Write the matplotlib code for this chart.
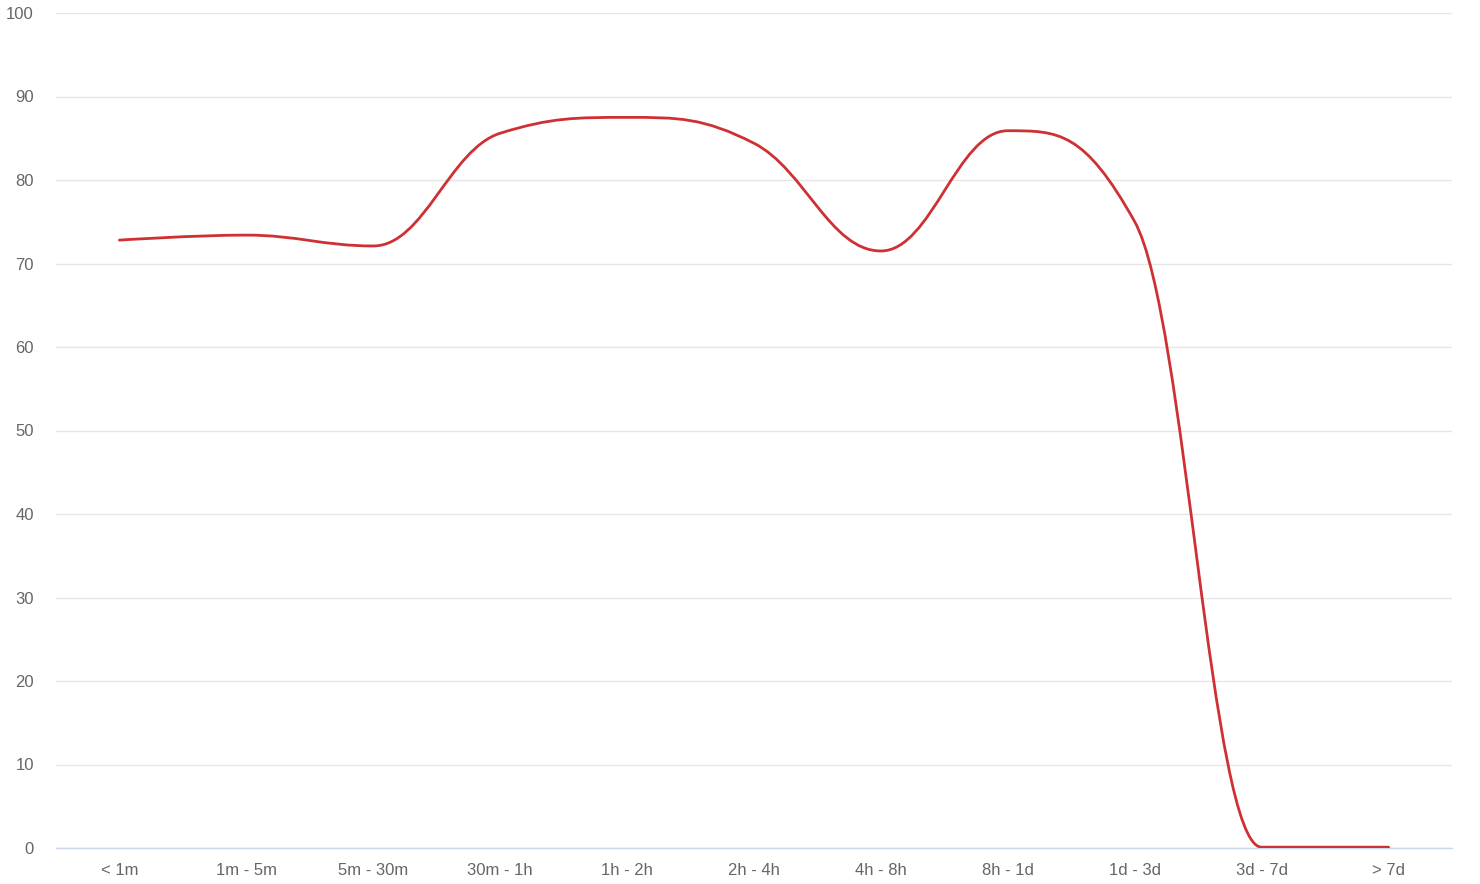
import numpy as np
import matplotlib.pyplot as plt
from matplotlib.path import Path
from matplotlib.patches import PathPatch

categories = ['< 1m', '1m - 5m', '5m - 30m', '30m - 1h', '1h - 2h', '2h - 4h',
              '4h - 8h', '8h - 1d', '1d - 3d', '3d - 7d', '> 7d']
values = [72.8, 73.4, 72.1, 85.6, 87.5, 84.4, 71.5, 85.9, 75.0, 0.1, 0.1]
y_ticks = [0, 10, 20, 30, 40, 50, 60, 70, 80, 90, 100]


def spline_path(xs, ys, smoothing=1.5):
    # Highcharts-style spline: cubic bezier with clamped control points
    n = len(xs)
    denom = smoothing + 1
    left = [(xs[0], ys[0])] * n
    right = [(xs[0], ys[0])] * n
    for i in range(n):
        x, y = xs[i], ys[i]
        if i == 0 or i == n - 1:
            left[i] = (x, y)
            right[i] = (x, y)
            continue
        lx, ly = xs[i - 1], ys[i - 1]
        nx, ny = xs[i + 1], ys[i + 1]
        lcx = (smoothing * x + lx) / denom
        lcy = (smoothing * y + ly) / denom
        rcx = (smoothing * x + nx) / denom
        rcy = (smoothing * y + ny) / denom
        if rcx != lcx:
            corr = (rcy - lcy) * (rcx - x) / (rcx - lcx) + y - rcy
            lcy += corr
            rcy += corr
        if lcy > ly and lcy > y:
            lcy = max(ly, y)
            rcy = 2 * y - lcy
        elif lcy < ly and lcy < y:
            lcy = min(ly, y)
            rcy = 2 * y - lcy
        if rcy > ny and rcy > y:
            rcy = max(ny, y)
            lcy = 2 * y - rcy
        elif rcy < ny and rcy < y:
            rcy = min(ny, y)
            lcy = 2 * y - rcy
        left[i] = (lcx, lcy)
        right[i] = (rcx, rcy)
    verts = [(xs[0], ys[0])]
    codes = [Path.MOVETO]
    for i in range(1, n):
        verts += [right[i - 1], left[i], (xs[i], ys[i])]
        codes += [Path.CURVE4] * 3
    return Path(verts, codes)


fig = plt.figure(figsize=(14.8, 8.84), dpi=100)
ax = fig.add_axes([56 / 1480, 1 - 848 / 884, 1396 / 1480, 835 / 884])
plt.rcParams['font.family'] = ['Liberation Sans', 'DejaVu Sans']

xs = np.arange(len(categories))
path = spline_path(list(xs), values)
ax.add_patch(PathPatch(path, facecolor='none', edgecolor='#cf3034',
                       linewidth=2.0, capstyle='round', joinstyle='round',
                       zorder=3))

ax.set_xlim(-0.5, len(categories) - 0.5)
ax.set_ylim(0, 100)
ax.set_yticks(y_ticks)
ax.set_xticks(xs)
ax.set_xticklabels(categories, family=['Liberation Sans', 'DejaVu Sans'])
ax.set_yticklabels([str(t) for t in y_ticks], family=['Liberation Sans', 'DejaVu Sans'])
ax.tick_params(axis='both', length=0, labelsize=12, labelcolor='#666666')
ax.tick_params(axis='y', pad=16)
ax.tick_params(axis='x', pad=11)
ax.grid(axis='y', color='#e6e6e6', linewidth=1)
ax.set_axisbelow(True)
for side in ['top', 'right', 'left']:
    ax.spines[side].set_visible(False)
ax.spines['bottom'].set_color('#ccd6eb')
ax.spines['bottom'].set_linewidth(1)

fig.savefig('out.png', dpi=100)
